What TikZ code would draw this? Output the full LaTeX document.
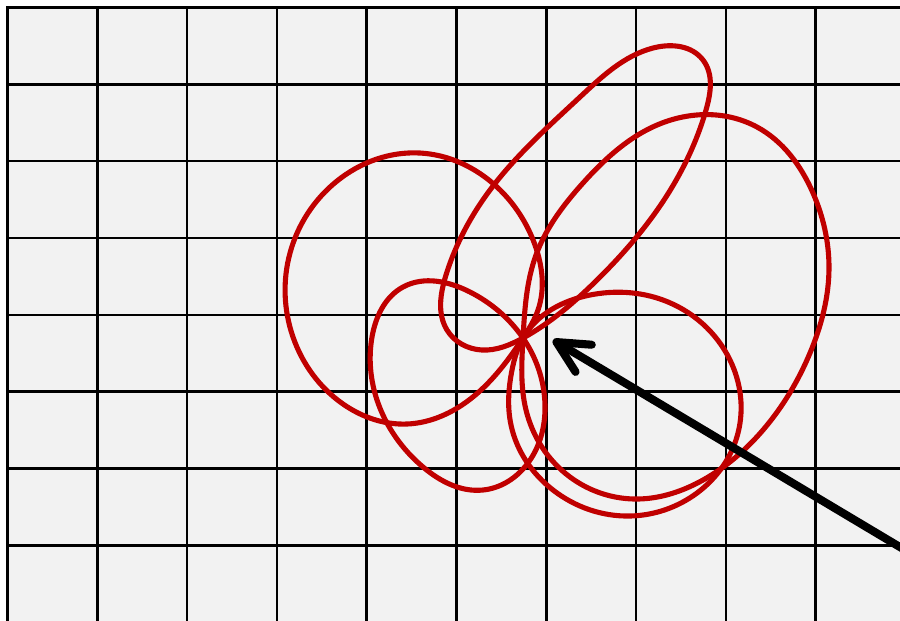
\documentclass[tikz,border=0pt]{standalone}
\usepackage{tikz}
\usetikzlibrary{arrows.meta,hobby}
\definecolor{loopred}{RGB}{192,0,0}
\definecolor{cellgray}{RGB}{242,242,242}

\begin{document}
\begin{tikzpicture}[x=0.01cm,y=-0.01cm,
  gridline/.style={line width=0.78pt,line cap=rect},
  loopline/.style={loopred,line width=1.45pt,use Hobby shortcut,closed=true},
  pointer/.style={line width=2.3pt,-{Straight Barb[length=9pt,width=9pt,round]}}]
\useasboundingbox (0,0) rectangle (900,620);
\fill[cellgray] (7.5,7.3) rectangle (905,625);
\foreach \i in {0,...,9} \draw[gridline] (7.5+89.8*\i,7.3) -- (7.5+89.8*\i,625);
\foreach \j in {0,...,7} \draw[gridline] (7.5,7.3+76.9*\j) -- (905,7.3+76.9*\j);
\coordinate (hub) at (523,338);
\draw[loopline] (hub) .. (462,405) .. (407,424) .. (343,404) .. (293,337) .. (290,253) .. (337,181) .. (420,153) .. (497,187) .. (535,245) .. (538,310);
\draw[loopline] (hub) .. (482,350) .. (447,330) .. (446,275) .. (490,190) .. (580,97) .. (653,48) .. (703,60) .. (706,110) .. (664,200) .. (596,281);
\draw[loopline] (hub) .. (536,255) .. (583,183) .. (662,123) .. (757,127) .. (813,193) .. (829,267) .. (810,353) .. (763,430) .. (703,480) .. (638,499) .. (570,477) .. (526,410);
\draw[loopline] (hub) .. (590,295) .. (663,300) .. (730,360) .. (738,433) .. (697,493) .. (630,516) .. (553,490) .. (511,425) .. (512,370);
\draw[loopline] (hub) .. (470,292) .. (403,287) .. (372,337) .. (377,400) .. (423,467) .. (483,490) .. (532,457) .. (545,405);
\coordinate (tail) at (920,559);
\coordinate (tip) at (553,340);
\draw[pointer] (tail) -- (tip);
\end{tikzpicture}
\end{document}
